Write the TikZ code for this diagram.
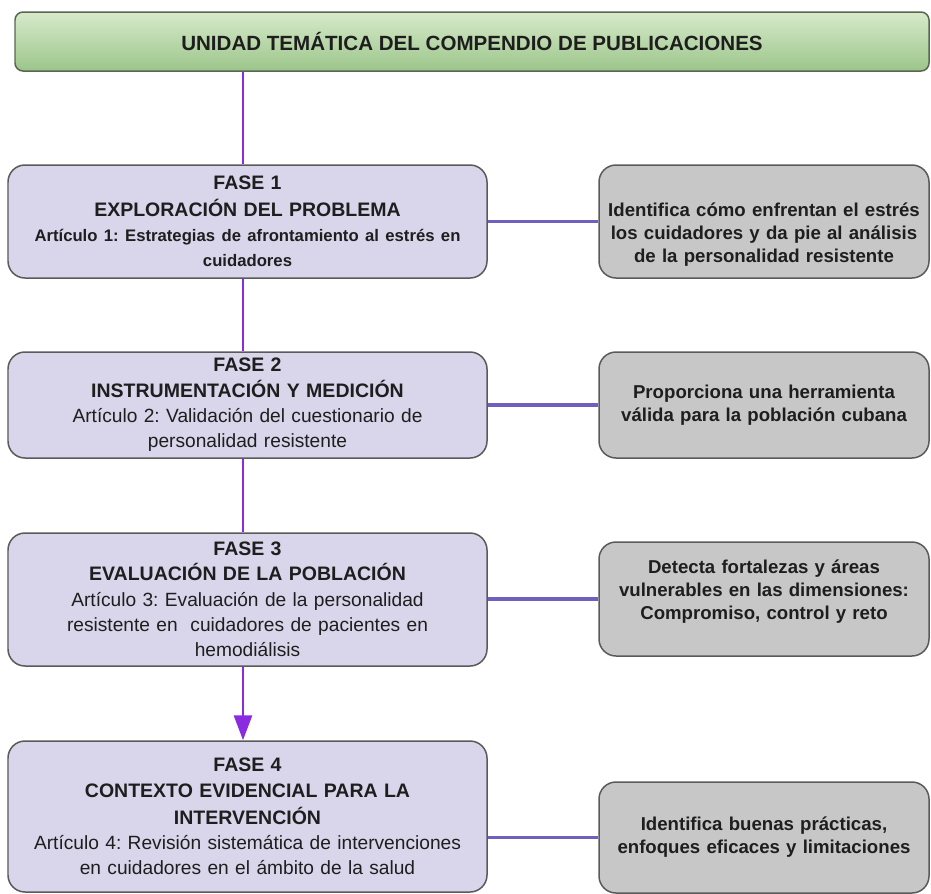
\documentclass[tikz,border=0pt]{standalone}
\usepackage{fontspec}
\setmainfont{Liberation Sans}
\frenchspacing
\usetikzlibrary{arrows.meta}
\definecolor{verdeclaro}{RGB}{215,234,203}
\definecolor{verdeoscuro}{RGB}{156,197,138}
\definecolor{bordeverde}{RGB}{88,102,82}
\definecolor{lavanda}{RGB}{217,213,234}
\definecolor{grisclaro}{RGB}{199,199,199}
\definecolor{borde}{RGB}{90,90,90}
\definecolor{violeta}{RGB}{138,43,226}
\definecolor{morado}{RGB}{112,96,190}
\definecolor{texto}{RGB}{30,30,30}

\begin{document}
\begin{tikzpicture}[scale=1, line join=round,
	fase/.style={draw=borde, line width=0.85pt, fill=lavanda, rounded corners=0.34cm,
		minimum width=9.58cm, text width=9.45cm, inner xsep=0.065cm, align=center,
		text=texto, font=\fontsize{10.9}{14.4}\selectfont},
	logro/.style={draw=borde, line width=0.85pt, fill=grisclaro, rounded corners=0.34cm,
		minimum width=6.6cm, text width=6.52cm, inner xsep=0.04cm, align=center,
		text=texto, font=\bfseries\fontsize{10.6}{13.1}\selectfont},
	vlinea/.style={draw=violeta, line width=1.7pt},
	hlinea/.style={draw=morado, line width=2.2pt},
	>={Triangle[width=0.36cm,length=0.5cm]}]
	\useasboundingbox (0,0) rectangle (18.62,-17.86);
	% titulo
	\node[draw=bordeverde, line width=0.85pt, top color=verdeclaro, bottom color=verdeoscuro,
		rounded corners=0.16cm, minimum width=18.28cm, minimum height=1.18cm, text=texto,
		font=\bfseries\fontsize{11.7}{13}\selectfont] (unidad) at (9.44,-0.83)
		{UNIDAD TEMÁTICA DEL COMPENDIO DE PUBLICACIONES};
	% fases
	\node[fase, minimum height=2.26cm] (fase1) at (4.95,-4.43)
		{{\bfseries\fontsize{11.1}{15.4}\selectfont FASE 1\par EXPLORACIÓN DEL PROBLEMA\par}
		{\bfseries\fontsize{9.5}{14.2}\selectfont Artículo 1: Estrategias de afrontamiento al estrés en\\ cuidadores\par}};
	\node[fase, minimum height=2.12cm] (fase2) at (4.95,-8.10)
		{{\bfseries\fontsize{11.1}{14.4}\selectfont FASE 2\par INSTRUMENTACIÓN Y MEDICIÓN\par}
		Artículo 2: Validación del cuestionario de\\ personalidad resistente\par};
	\node[fase, minimum height=2.66cm] (fase3) at (4.95,-11.99)
		{{\bfseries\fontsize{11.1}{14.4}\selectfont FASE 3\par EVALUACIÓN DE LA POBLACIÓN\par}
		Artículo 3: Evaluación de la personalidad\\ resistente en\ \ cuidadores de pacientes en\\ hemodiálisis\par};
	\node[fase, minimum height=3.02cm] (fase4) at (4.95,-16.33)
		{{\bfseries\fontsize{11.1}{15}\selectfont FASE 4\par CONTEXTO EVIDENCIAL PARA LA\\ INTERVENCIÓN\par}
		Artículo 4: Revisión sistemática de intervenciones\\ en cuidadores en el ámbito de la salud\par};
	% aportes
	\node[logro, minimum height=2.26cm] (logro1) at (15.28,-4.43)
		{\rule{0pt}{0.8cm}Identifica cómo enfrentan el estrés\\ los cuidadores y da pie al análisis\\ de la personalidad resistente};
	\node[logro, minimum height=2.12cm] (logro2) at (15.28,-8.10)
		{Proporciona una herramienta\\ válida para la población cubana};
	\node[logro, minimum height=2.28cm] (logro3) at (15.28,-11.98)
		{Detecta fortalezas y áreas\\ vulnerables en las dimensiones:\\ Compromiso, control y reto\par\vspace*{0.3cm}};
	\node[logro, minimum height=2.22cm] (logro4) at (15.28,-16.75)
		{Identifica buenas prácticas,\\ enfoques eficaces y limitaciones};
	% conectores
	\draw[vlinea] ([xshift=-0.09cm]unidad.south -| fase1.north) -- ([xshift=-0.09cm]fase1.north);
	\draw[vlinea] ([xshift=-0.09cm]fase1.south) -- ([xshift=-0.09cm]fase2.north);
	\draw[vlinea] ([xshift=-0.09cm]fase2.south) -- ([xshift=-0.09cm]fase3.north);
	\draw[vlinea,->] ([xshift=-0.09cm]fase3.south) -- ([xshift=-0.09cm]fase4.north);
	\foreach \i in {1,...,4}
		\draw[hlinea] (fase\i.east |- logro\i.west) -- (logro\i.west);
\end{tikzpicture}
\end{document}
